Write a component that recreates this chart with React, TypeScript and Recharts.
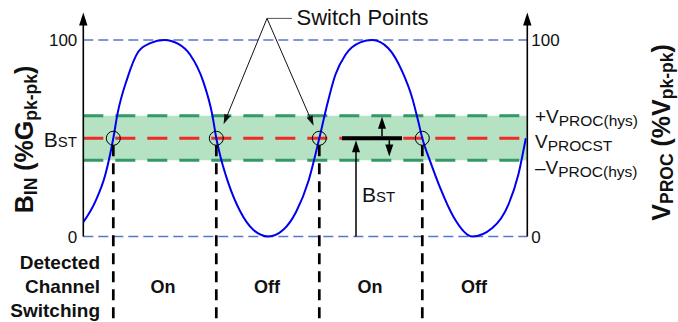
import React from 'react';
import { ComposedChart, Line, XAxis, YAxis, ReferenceLine, ReferenceArea, ReferenceDot } from 'recharts';

// Input waveform B_IN (% of peak-to-peak)
const curveX = [0, 12, 22, 30, 34, 44, 55, 67, 81, 95, 107, 120, 129, 133, 137, 145, 157, 170, 185, 200, 213, 225, 236, 243, 252, 262, 277, 289, 305, 319, 329, 335, 339, 347, 357, 370, 389, 409, 425, 435, 442.5];
const curveV = [7.3, 17.8, 31.4, 50, 61.9, 80.5, 94, 98.4, 100, 98, 92.4, 78.8, 61.9, 50, 41, 27.3, 12.7, 3.4, 0, 3.4, 12.7, 28, 50, 65.3, 82.2, 92.4, 98.8, 100, 95.8, 83.9, 70.4, 58.5, 50, 38.1, 24.6, 10.2, 0, 4.3, 16.1, 31.4, 50];

const switchPoints = [30, 133, 236, 339];
const bstLevel = 50;
const hysHigh = 61.5;
const hysLow = 38.8;
const yTicks = [0, 100];
const xMax = 444;
const yMin = -43.5;
const yMax = 114;
const states = ['On', 'Off', 'On', 'Off'];
const statesX = [163, 267, 370, 474];
const rowLabels = ['Detected', 'Channel', 'Switching'];

const data = curveX.map((x, i) => ({ x, v: curveV[i] }));

const FONT = 'Liberation Sans, Arial, sans-serif';

const makeArrow = (len: number, half: number, color: string, width: number) => (p: any) => {
  const x1 = Number(p.x1), y1 = Number(p.y1), x2 = Number(p.x2), y2 = Number(p.y2);
  const dx = x2 - x1, dy = y2 - y1;
  const d = Math.hypot(dx, dy) || 1;
  const ux = dx / d, uy = dy / d;
  const bx = x2 - ux * len, by = y2 - uy * len;
  const pts = `${x2},${y2} ${bx - uy * half},${by + ux * half} ${bx + uy * half},${by - ux * half}`;
  return (
    <g>
      <line x1={x1} y1={y1} x2={bx + ux} y2={by + uy} stroke={color} strokeWidth={width} />
      <polygon points={pts} fill={color} />
    </g>
  );
};

const axisArrow = makeArrow(13, 4.2, '#000', 1.6);
const bigArrow = makeArrow(12, 4, '#000', 1.5);
const thinArrow = makeArrow(10, 3.2, '#111', 1);

export default function App() {
  return (
    <div style={{ position: 'absolute', left: 0, top: 0, width: 678, height: 322, background: '#fff', fontFamily: FONT }}>
      <ComposedChart width={678} height={322} data={data} margin={{ top: 12.5, right: 110.7, bottom: 0, left: 43.3 }}>
        <XAxis dataKey="x" type="number" domain={[0, xMax]} hide allowDataOverflow />
        <YAxis
          yAxisId={0}
          type="number"
          domain={[yMin, yMax]}
          ticks={yTicks}
          interval={0}
          allowDataOverflow
          axisLine={false}
          tickLine={false}
          tickSize={0}
          tickMargin={6}
          width={40}
          tick={{ fill: '#111', fontSize: 17, fontFamily: FONT }}
        />
        <YAxis
          yAxisId="R"
          orientation="right"
          type="number"
          domain={[yMin, yMax]}
          ticks={yTicks}
          interval={0}
          allowDataOverflow
          axisLine={false}
          tickLine={false}
          tickSize={0}
          tickMargin={4}
          width={40}
          tick={{ fill: '#111', fontSize: 17, fontFamily: FONT, textAnchor: 'start' }}
        />
        <ReferenceArea x1={0} x2={xMax} y1={hysLow} y2={hysHigh} fill="#b4e2c3" fillOpacity={1} stroke="none" ifOverflow="visible" />
        <ReferenceLine y={100} stroke="#5577cc" strokeWidth={1.5} strokeDasharray="10 5" ifOverflow="visible" />
        <ReferenceLine y={0} stroke="#5577cc" strokeWidth={1.5} strokeDasharray="10 5" ifOverflow="visible" />
        <ReferenceLine y={hysHigh} stroke="#339966" strokeWidth={3} strokeDasharray="20 12" ifOverflow="visible" />
        <ReferenceLine y={hysLow} stroke="#339966" strokeWidth={3} strokeDasharray="20 12" ifOverflow="visible" />
        <ReferenceLine y={bstLevel} stroke="#ee2b24" strokeWidth={3} strokeDasharray="20 12" ifOverflow="visible" />
        <ReferenceLine segment={[{ x: 0, y: 0 }, { x: 0, y: yMax }]} shape={axisArrow} ifOverflow="visible" />
        <ReferenceLine segment={[{ x: xMax, y: 0 }, { x: xMax, y: yMax }]} shape={axisArrow} ifOverflow="visible" />
        <Line type="monotone" dataKey="v" stroke="#0000ee" strokeWidth={2} dot={false} isAnimationActive={false} />
        {switchPoints.map((x) => (
          <ReferenceLine key={'d' + x} segment={[{ x, y: 46.4 }, { x, y: yMin }]} stroke="#000" strokeWidth={2.7} strokeDasharray="11 7" ifOverflow="visible" />
        ))}
        {switchPoints.map((x) => (
          <ReferenceDot key={'c' + x} x={x} y={bstLevel} r={7} fill="none" stroke="#000" strokeWidth={1} ifOverflow="visible" />
        ))}
        <ReferenceLine segment={[{ x: 258.7, y: bstLevel }, { x: 318.7, y: bstLevel }]} stroke="#000" strokeWidth={4} ifOverflow="visible" />
        <ReferenceLine segment={[{ x: 272.7, y: 0 }, { x: 272.7, y: 49 }]} shape={bigArrow} ifOverflow="visible" />
        <ReferenceLine segment={[{ x: 298.7, y: 51 }, { x: 298.7, y: 61 }]} shape={bigArrow} ifOverflow="visible" />
        <ReferenceLine segment={[{ x: 306, y: 49 }, { x: 306, y: 40.7 }]} shape={bigArrow} ifOverflow="visible" />
        <ReferenceLine segment={[{ x: 208.7, y: 111 }, { x: 183.7, y: 111 }]} stroke="#555" strokeWidth={1} ifOverflow="visible" />
        <ReferenceLine segment={[{ x: 183.7, y: 111 }, { x: 140.3, y: 57.1 }]} shape={thinArrow} ifOverflow="visible" />
        <ReferenceLine segment={[{ x: 183.7, y: 111 }, { x: 230.3, y: 56.4 }]} shape={thinArrow} ifOverflow="visible" />
      </ComposedChart>
      <svg width={678} height={322} style={{ position: 'absolute', left: 0, top: 0, pointerEvents: 'none' }} fontFamily={FONT}>
        <text x={296.5} y={25} fontSize={22} fill="#111">Switch Points</text>
        <text x={77} y={146.5} fontSize={21} fill="#111" textAnchor="end">B<tspan fontSize={15}>ST</tspan></text>
        <text x={362} y={202} fontSize={21} fill="#111">B<tspan fontSize={15}>ST</tspan></text>
        <text x={535} y={123} fontSize={19} fill="#111">+V<tspan fontSize={15.5} dy={3}>PROC(hys)</tspan></text>
        <text x={535} y={148} fontSize={19} fill="#111">V<tspan fontSize={15.5} dy={3}>PROCST</tspan></text>
        <text x={535} y={174} fontSize={19} fill="#111">–V<tspan fontSize={15.5} dy={3}>PROC(hys)</tspan></text>
        <text transform="translate(33,139.5) rotate(-90)" textAnchor="middle" fontSize={25} fontWeight="bold" fill="#111">
          B<tspan fontSize={17.5} dy={4}>IN</tspan><tspan dy={-4}> (%G</tspan><tspan fontSize={17.5} dy={4}>pk-pk</tspan><tspan dy={-4}>)</tspan>
        </text>
        <text transform="translate(670,132.5) rotate(-90)" textAnchor="middle" fontSize={25} fontWeight="bold" fill="#111">
          V<tspan fontSize={17.5} dy={2.5}>PROC</tspan><tspan dy={-2.5}> (%V</tspan><tspan fontSize={17.5} dy={2.5}>pk-pk</tspan><tspan dy={-2.5}>)</tspan>
        </text>
        {rowLabels.map((t, i) => (
          <text key={t} x={100} y={268.5 + i * 24} fontSize={19} fontWeight="bold" fill="#111" textAnchor="end">{t}</text>
        ))}
        {states.map((t, i) => (
          <text key={i} x={statesX[i]} y={292.5} fontSize={18} fontWeight="bold" fill="#111" textAnchor="middle">{t}</text>
        ))}
      </svg>
    </div>
  );
}
